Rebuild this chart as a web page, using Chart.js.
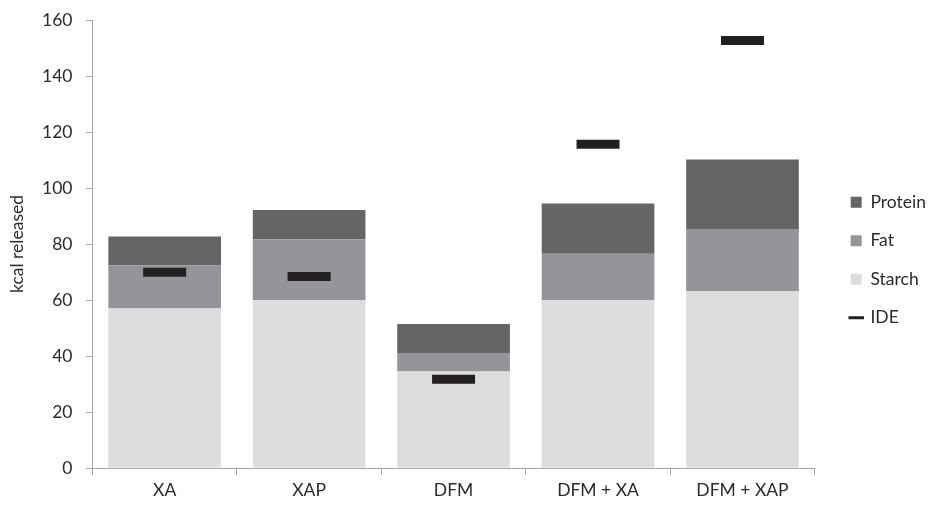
<!DOCTYPE html>
<html>
<head>
<meta charset="utf-8">
<script src="https://cdn.jsdelivr.net/npm/chart.js@4/dist/chart.umd.min.js"></script>
<style>
    html, body { margin: 0; padding: 0; background: #fff; }
    #wrap { width: 931px; height: 506px; }
</style>
</head>
<body>
<div id="wrap"><canvas id="chart" width="931" height="506"></canvas></div>
<script>
// Data
const categories = ['XA', 'XAP', 'DFM', 'DFM + XA', 'DFM + XAP'];
const starch = [57, 60, 34.5, 60, 63.2];
const fat = [15.3, 21.7, 6.6, 16.5, 22.2];
const protein = [10.4, 10.4, 10.3, 18, 24.8];
const ide = [69.9, 68.4, 31.7, 115.6, 152.7];
const yTicks = [0, 20, 40, 60, 80, 100, 120, 140, 160];

const axisGrey = '#a6a6a6';
const textColor = '#2b2b2b';
const baseFont = { family: 'Lato, "Open Sans", sans-serif', size: 17.5 };

const legendItems = [
    { text: 'Protein', color: '#646567', style: 'rect' },
    { text: 'Fat', color: '#939598', style: 'rect' },
    { text: 'Starch', color: '#dcdddf', style: 'rect' },
    { text: 'IDE', color: '#231f20', style: 'line' }
];

// nudge the legend box once the plot area is laid out
const legendNudge = {
    id: 'legendNudge',
    afterLayout(chart) {
        const lg = chart.legend;
        if (!lg) return;
        lg.left += 15;
        lg.right += 15;
        lg.top -= 3;
        lg.bottom -= 3;
    }
};

new Chart(document.getElementById('chart'), {
    type: 'bar',
    data: {
        labels: categories,
        datasets: [
            {
                type: 'line',
                label: 'IDE',
                data: ide,
                stack: 'ide',
                showLine: false,
                pointStyle: 'line',
                pointRadius: 21.5,
                pointHoverRadius: 21.5,
                pointBorderWidth: 9,
                pointBorderColor: '#231f20',
                pointBackgroundColor: '#231f20',
                order: 0
            },
            { label: 'Starch', data: starch, backgroundColor: '#dcdddf', stack: 'k', order: 1 },
            { label: 'Fat', data: fat, backgroundColor: '#939598', stack: 'k', order: 1 },
            { label: 'Protein', data: protein, backgroundColor: '#646567', stack: 'k', order: 1 }
        ]
    },
    options: {
        responsive: false,
        animation: false,
        layout: { autoPadding: false, padding: { top: 20, right: 10, bottom: 0, left: 7 } },
        datasets: {
            bar: { categoryPercentage: 1, barPercentage: 0.78, borderWidth: 0 }
        },
        plugins: {
            tooltip: { enabled: false },
            legend: {
                position: 'right',
                labels: {
                    font: baseFont,
                    color: textColor,
                    boxWidth: 11,
                    boxHeight: 11,
                    padding: 21,
                    usePointStyle: true,
                    generateLabels: () => legendItems.map(item => ({
                        text: item.text,
                        fillStyle: item.color,
                        strokeStyle: item.color,
                        lineWidth: item.style === 'line' ? 3 : 0,
                        pointStyle: item.style,
                        fontColor: textColor,
                        hidden: false
                    }))
                }
            }
        },
        scales: {
            x: {
                stacked: true,
                offset: true,
                grid: {
                    offset: true,
                    drawOnChartArea: false,
                    drawTicks: true,
                    tickLength: 7,
                    color: axisGrey
                },
                border: { color: axisGrey },
                ticks: { font: baseFont, color: textColor, padding: 5 }
            },
            y: {
                stacked: true,
                min: 0,
                max: 160,
                afterBuildTicks: axis => { axis.ticks = yTicks.map(v => ({ value: v })); },
                afterFit: axis => { axis.paddingTop = 0; },
                grid: {
                    drawOnChartArea: false,
                    tickLength: 6,
                    color: axisGrey
                },
                border: { color: axisGrey },
                ticks: { font: baseFont, color: textColor, padding: 14 },
                title: {
                    display: true,
                    text: 'kcal released',
                    font: baseFont,
                    color: textColor,
                    padding: { top: 0, bottom: 0 }
                }
            }
        }
    },
    plugins: [legendNudge]
});
</script>
</body>
</html>
